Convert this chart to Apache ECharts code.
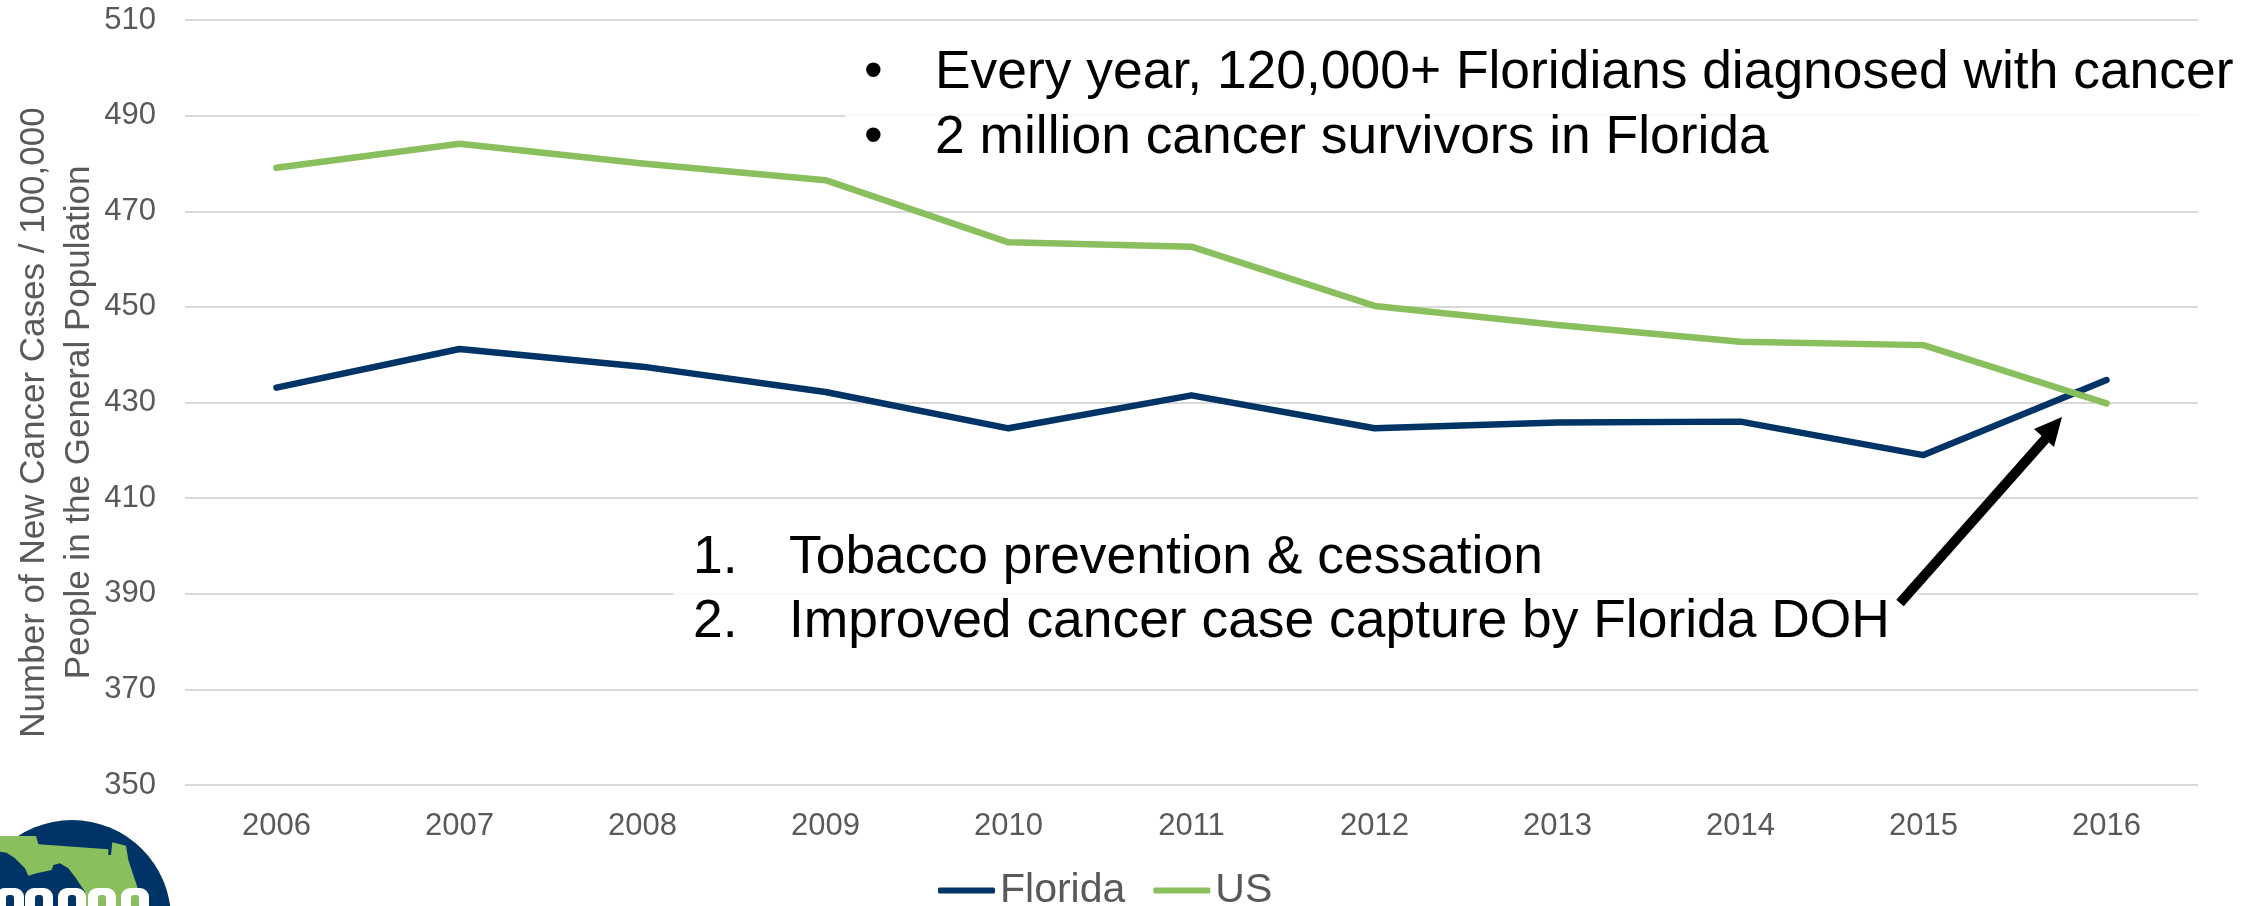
<!DOCTYPE html>
<html><head><meta charset="utf-8">
<style>html,body{margin:0;padding:0;background:#fff}#c{width:2264px;height:906px}</style>
<script src="https://cdn.jsdelivr.net/npm/echarts@6/dist/echarts.min.js"></script>
</head><body><div id="c"></div>
<script>
const years = ['2006','2007','2008','2009','2010','2011','2012','2013','2014','2015','2016'];
const florida = [433.1,441.2,437.5,432.2,424.6,431.5,424.6,425.8,426.0,419.0,434.7];
const us = [479.1,484.1,480.0,476.5,463.5,462.6,450.2,446.2,442.7,442.0,429.8];
const yTitle = 'Number of New Cancer Cases / 100,000\nPeople in the General Population';
const topNotes = ['Every year, 120,000+ Floridians diagnosed with cancer','2 million cancer survivors in Florida'];
const lowerNotes = ['Tobacco prevention & cessation','Improved cancer case capture by Florida DOH'];
const NAVY='#003366', GREEN='#8abf5d', GREY='#595959', FONT='"Liberation Sans", Arial, sans-serif';

const note=(x,y,t)=>({type:'text',x,y,z:20,style:{text:t,fill:'#000',fontFamily:'Liberation Sans',fontSize:53.4}});
const P=(pts)=>pts.map(p=>[p[0]/3,810+p[1]/3]);
const florShape=P([[0,78],[108,78],[115,103],[325,118],[325,135],[333,135],[337,97],[378,107],[385,150],[415,240],[440,288],[255,288],[255,245],[228,205],[205,175],[180,160],[160,165],[155,180],[110,190],[85,197],[75,175],[45,145],[20,128],[0,125]]);
const logoLetters=[[10,NAVY],[39,NAVY],[72,NAVY],[102,GREEN],[135,GREEN]];
const letterShapes=logoLetters.flatMap(([cx,c])=>[
  {type:'rect',shape:{x:cx-14,y:888,width:28,height:30,r:[9,9,0,0]},style:{fill:'#fff'},z:7},
  {type:'rect',shape:{x:cx-4,y:895,width:8,height:15,r:[3,3,0,0]},style:{fill:c},z:8}
]);

const chart=echarts.init(document.getElementById('c'),null,{renderer:'canvas'});
chart.setOption({
 animation:false,
 backgroundColor:'#fff',
 grid:{left:185,right:66,top:20,bottom:121,outerBoundsMode:'none'},
 legend:{data:['Florida','US'],left:938,top:870,padding:0,itemWidth:57,itemHeight:6,itemGap:28,icon:'roundRect',
   textStyle:{color:GREY,fontSize:41,fontFamily:FONT}},
 xAxis:{type:'category',data:years,axisTick:{show:false},axisLine:{show:false},
   axisLabel:{color:GREY,fontSize:31,fontFamily:FONT,margin:26}},
 yAxis:{type:'value',min:350,max:510,interval:20,
   name:yTitle,nameLocation:'middle',nameRotate:90,nameGap:83,nameMoveOverlap:false,
   nameTextStyle:{color:GREY,fontSize:35,fontFamily:FONT,lineHeight:45,padding:[0,40,0,0]},
   axisLine:{show:false},axisTick:{show:false},
   axisLabel:{color:GREY,fontSize:31,fontFamily:FONT,margin:29,padding:[2,0,0,0]},
   splitLine:{lineStyle:{color:'#d9d9d9',width:2}}},
 series:[
  {name:'Florida',type:'line',data:florida,symbol:'none',itemStyle:{color:NAVY},lineStyle:{color:NAVY,width:6.5,cap:'round',join:'round'},z:3},
  {name:'US',type:'line',data:us,symbol:'none',itemStyle:{color:GREEN},lineStyle:{color:GREEN,width:6.5,cap:'round',join:'round'},z:4}
 ],
 graphic:{elements:[
  {type:'rect',shape:{x:845,y:114,width:1353,height:50},style:{fill:'#fff'},z:10},
  {type:'rect',shape:{x:845,y:114.5,width:1353,height:1},style:{fill:'#f3f3f3'},z:11},
  {type:'rect',shape:{x:673,y:593,width:1245,height:50},style:{fill:'#fff'},z:10},
  {type:'rect',shape:{x:673,y:593.5,width:1245,height:1},style:{fill:'#f3f3f3'},z:11},
  note(864,47,'•'),note(935,47,topNotes[0]),
  note(864,112,'•'),note(935,112,topNotes[1]),
  note(693,532,'1.'),note(789,532,lowerNotes[0]),
  note(693,596,'2.'),note(789,596,lowerNotes[1]),
  {type:'line',shape:{x1:1900,y1:603,x2:2048,y2:436},style:{stroke:'#000',lineWidth:10},z:20},
  {type:'polygon',shape:{points:[[2062,417],[2034,429],[2054,447]]},style:{fill:'#000'},z:20},
  {type:'circle',shape:{cx:72,cy:919,r:99},style:{fill:NAVY},z:5},
  {type:'polygon',shape:{points:florShape},style:{fill:GREEN},z:6},
  ...letterShapes
 ]}
});
</script></body></html>
